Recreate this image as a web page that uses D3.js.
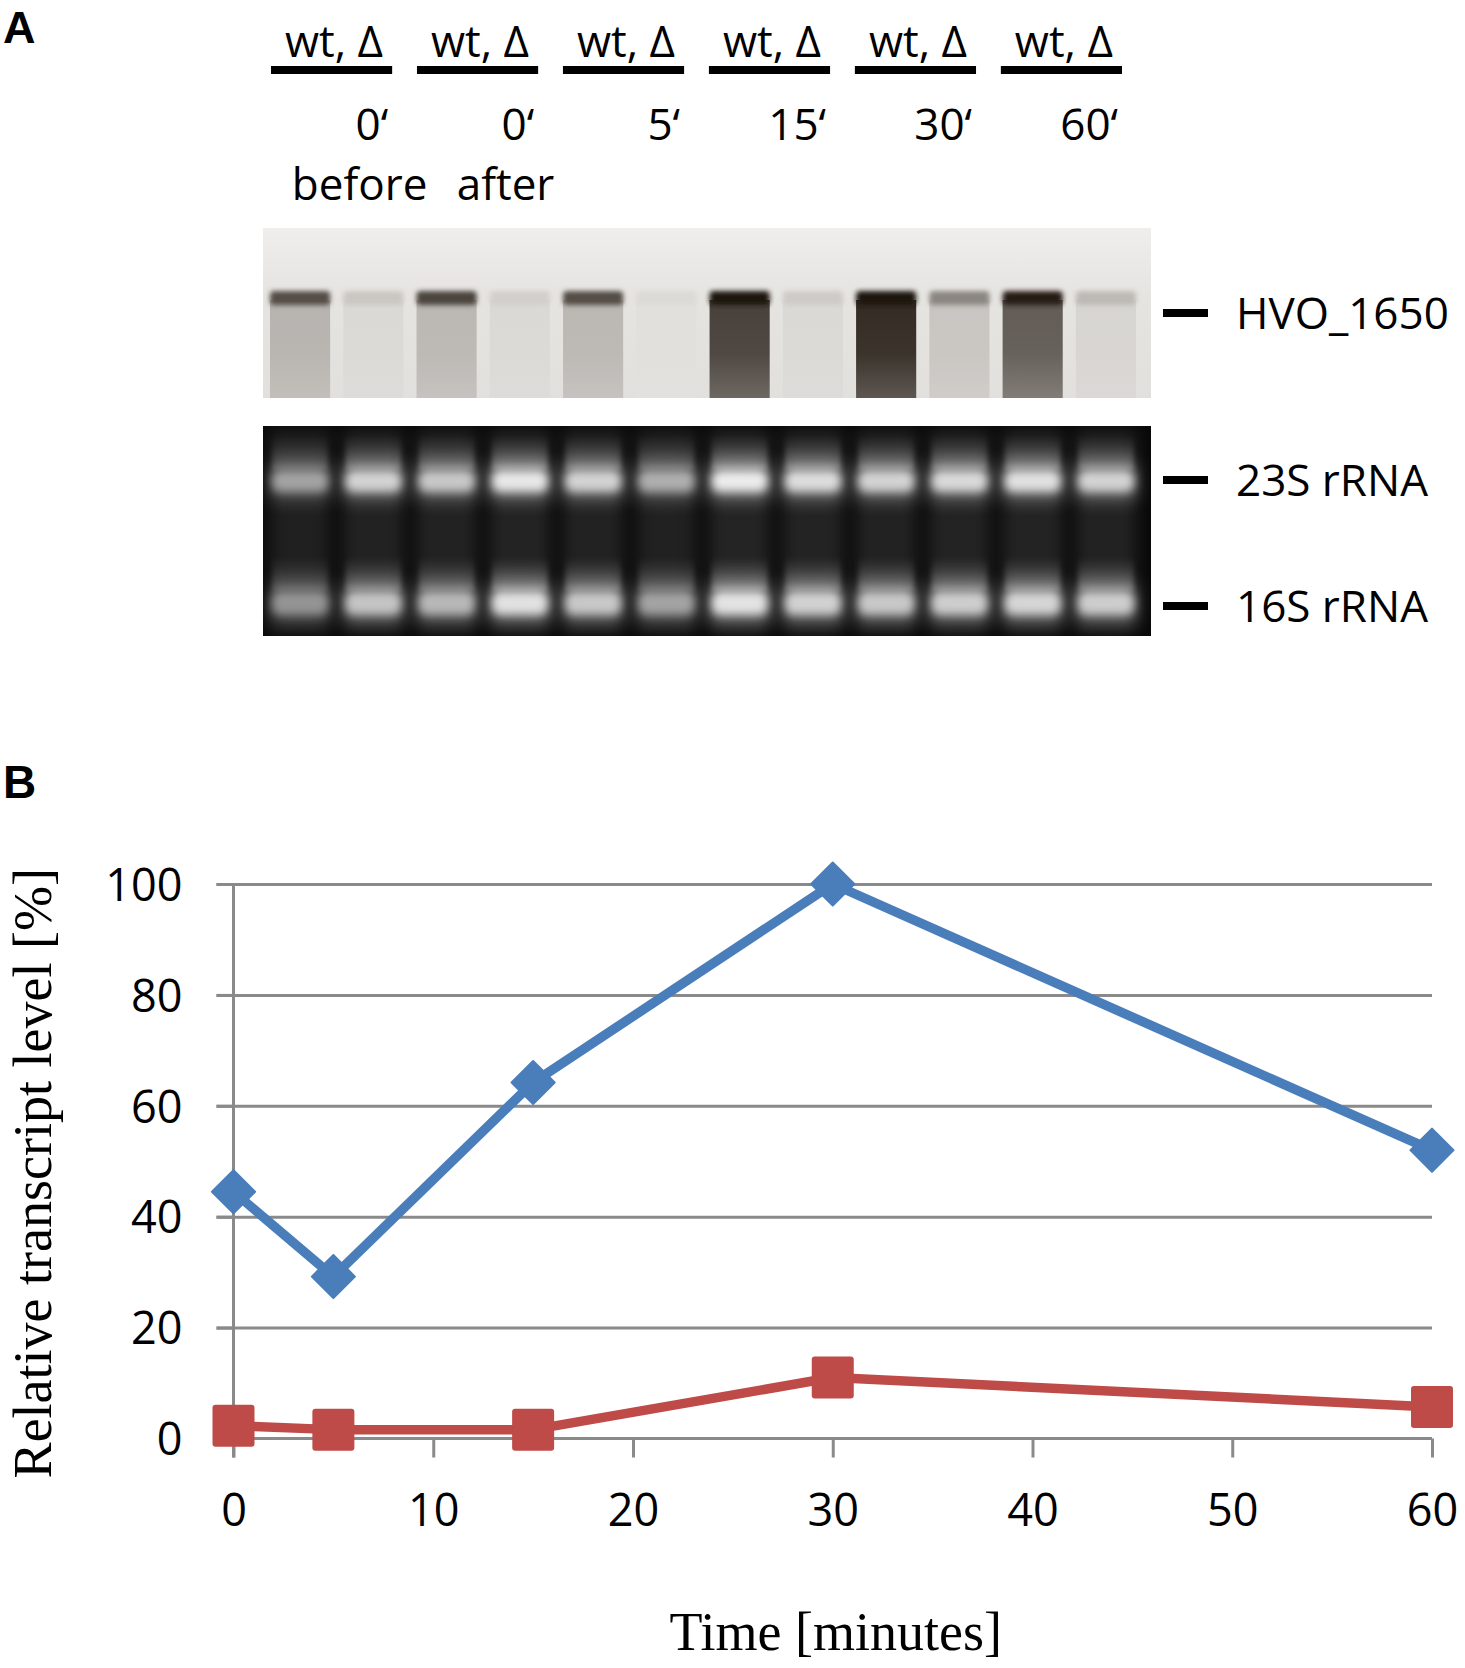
<!DOCTYPE html>
<html>
<head>
<meta charset="utf-8">
<script src="https://cdn.jsdelivr.net/npm/d3@7"></script>
<style>
  body { margin: 0; background: #fff; }
  svg { display: block; }
</style>
</head>
<body>
<div id="chart"></div>
<script>
// ---- panel A data ----
var groupLabels = ["wt, \u0394", "wt, \u0394", "wt, \u0394", "wt, \u0394", "wt, \u0394", "wt, \u0394"];
var timeLabels = ["0\u2018", "0\u2018", "5\u2018", "15\u2018", "30\u2018", "60\u2018"];
var subLabels = ["before", "after", "", "", "", ""];
var lanes = ["wt0b", "d0b", "wt0a", "d0a", "wt5", "d5", "wt15", "d15", "wt30", "d30", "wt60", "d60"];
// northern blot darkness (0 = background, 1 = black)
var hvoBand = [0.72, 0.14, 0.76, 0.1, 0.72, 0.05, 1.0, 0.12, 1.0, 0.45, 0.95, 0.2];
var hvoSmear = [0.22, 0.05, 0.2, 0.05, 0.2, 0.02, 0.74, 0.05, 0.84, 0.14, 0.62, 0.07];
// ethidium bromide brightness
var rRNA23S = [0.62, 0.85, 0.8, 0.95, 0.85, 0.68, 0.97, 0.9, 0.85, 0.88, 0.92, 0.85];
var rRNA16S = [0.55, 0.78, 0.72, 0.92, 0.8, 0.62, 0.93, 0.84, 0.8, 0.82, 0.86, 0.82];
var markerLabels = ["HVO_1650", "23S rRNA", "16S rRNA"];

// ---- panel B data ----
var times = [0, 5, 15, 30, 60];
var wtLevel = [44.5, 29.2, 64.2, 100, 52.0];
var deltaLevel = [2.3, 1.6, 1.6, 11.0, 5.7];
var xTicks = [0, 10, 20, 30, 40, 50, 60];
var yTicks = [0, 20, 40, 60, 80, 100];

var svgWidth = 1465, svgHeight = 1668;
var sans = "'Open Sans', 'DejaVu Sans', sans-serif";
var serif = "'Liberation Serif', 'DejaVu Serif', serif";

var svg = d3.select("#chart").append("svg")
    .attr("width", svgWidth)
    .attr("height", svgHeight);

var defs = svg.append("defs");
defs.append("filter").attr("id", "blurTop").attr("x", "-20%").attr("y", "-50%").attr("width", "140%").attr("height", "200%")
    .append("feGaussianBlur").attr("stdDeviation", 2.5);
defs.append("filter").attr("id", "blurBot").attr("x", "-30%").attr("y", "-60%").attr("width", "160%").attr("height", "220%")
    .append("feGaussianBlur").attr("stdDeviation", 5);
defs.append("filter").attr("id", "blurSoft").attr("x", "-30%").attr("y", "-30%").attr("width", "160%").attr("height", "160%")
    .append("feGaussianBlur").attr("stdDeviation", 8);

// ================= Panel A =================
svg.append("text").attr("x", 3).attr("y", 43).text("A")
    .attr("font-family", "'Liberation Sans', Arial, sans-serif").attr("font-weight", "bold").attr("font-size", "45px");

var groupScale = d3.scaleBand().domain(d3.range(groupLabels.length)).range([271, 1122]).paddingInner(0.17);
var laneScale = d3.scaleBand().domain(lanes).range([266, 1140]).paddingInner(0.07);

var groups = svg.append("g").attr("font-family", sans).attr("font-size", "44px").attr("fill", "#000");
groupLabels.forEach(function(lab, i) {
    var x0 = groupScale(i), bw = groupScale.bandwidth();
    groups.append("rect").attr("x", x0).attr("y", 66).attr("width", bw).attr("height", 8).attr("fill", "#000");
    groups.append("text").attr("x", x0 + 14).attr("y", 57).text(lab);
    groups.append("text").attr("x", x0 + bw - 4).attr("y", 140).attr("text-anchor", "end").text(timeLabels[i]);
    if (subLabels[i])
        groups.append("text").attr("x", x0 + bw / 2 + 28).attr("y", 200).attr("text-anchor", "middle").text(subLabels[i]);
});

// northern blot
var blotTop = 228, blotBottom = 398, blotLeft = 263, blotRight = 1151;
var topBg = "#e6e4e1";
var darkColor = d3.interpolateRgb(topBg, "#1b120b");

var bgGrad = defs.append("linearGradient").attr("id", "bgGrad").attr("x1", 0).attr("y1", 0).attr("x2", 0).attr("y2", 1);
bgGrad.append("stop").attr("offset", "0%").attr("stop-color", "#efeeec");
bgGrad.append("stop").attr("offset", "40%").attr("stop-color", topBg);
bgGrad.append("stop").attr("offset", "100%").attr("stop-color", "#e2e0dd");

var blot = svg.append("g");
blot.append("rect").attr("x", blotLeft).attr("y", blotTop).attr("width", blotRight - blotLeft)
    .attr("height", blotBottom - blotTop).attr("fill", "url(#bgGrad)");

lanes.forEach(function(l, i) {
    var g = defs.append("linearGradient").attr("id", "smear" + i).attr("x1", 0).attr("y1", 0).attr("x2", 0).attr("y2", 1);
    g.append("stop").attr("offset", "0%").attr("stop-color", darkColor(hvoSmear[i] * 1.05));
    g.append("stop").attr("offset", "55%").attr("stop-color", darkColor(hvoSmear[i]));
    g.append("stop").attr("offset", "100%").attr("stop-color", darkColor(hvoSmear[i] * 0.8));
});

blot.selectAll(".smear").data(lanes).enter().append("rect")
    .attr("class", "smear")
    .attr("x", function(d) { return laneScale(d) + 4; })
    .attr("y", 300)
    .attr("width", laneScale.bandwidth() - 8)
    .attr("height", blotBottom - 300)
    .attr("fill", function(d, i) { return "url(#smear" + i + ")"; });

blot.selectAll(".band").data(lanes).enter().append("rect")
    .attr("class", "band")
    .attr("x", function(d) { return laneScale(d) + 4; })
    .attr("y", 291)
    .attr("width", laneScale.bandwidth() - 8)
    .attr("height", 14)
    .attr("rx", 4)
    .attr("fill", function(d, i) { return darkColor(hvoBand[i]); })
    .attr("filter", "url(#blurTop)");

// ethidium bromide gel
var gelTop = 426, gelBottom = 636;
var gel = svg.append("g");
gel.append("rect").attr("x", blotLeft).attr("y", gelTop).attr("width", blotRight - blotLeft)
    .attr("height", gelBottom - gelTop).attr("fill", "#090909");

var tailGrad = defs.append("linearGradient").attr("id", "tail").attr("x1", 0).attr("y1", 0).attr("x2", 0).attr("y2", 1);
tailGrad.append("stop").attr("offset", "0%").attr("stop-color", "#fff").attr("stop-opacity", 0.35);
tailGrad.append("stop").attr("offset", "100%").attr("stop-color", "#fff").attr("stop-opacity", 0);

var gelInner = gel.append("g");
// faint lane smear
gelInner.selectAll(".lsmear").data(lanes).enter().append("rect")
    .attr("class", "lsmear")
    .attr("x", function(d) { return laneScale(d) + 4; })
    .attr("y", gelTop + 4)
    .attr("width", laneScale.bandwidth() - 8)
    .attr("height", gelBottom - gelTop - 8)
    .attr("fill", "#fff")
    .attr("opacity", function(d, i) { return 0.06 + 0.05 * rRNA23S[i]; })
    .attr("filter", "url(#blurSoft)");

function drawRBand(values, yc, h, cls) {
    // glow tail trailing above the band
    gelInner.selectAll("." + cls + "t").data(lanes).enter().append("rect")
        .attr("x", function(d) { return laneScale(d) + 6; })
        .attr("y", yc - h / 2 - 34)
        .attr("width", laneScale.bandwidth() - 12)
        .attr("height", 34)
        .attr("fill", "url(#tail)")
        .attr("transform", function(d) { return "rotate(180," + (laneScale(d) + laneScale.bandwidth() / 2) + "," + (yc - h / 2 - 17) + ")"; })
        .attr("opacity", function(d, i) { return values[i]; })
        .attr("filter", "url(#blurTop)");
    gelInner.selectAll("." + cls + "h").data(lanes).enter().append("rect")
        .attr("x", function(d) { return laneScale(d) + 2; })
        .attr("y", yc - h / 2 - 10)
        .attr("width", laneScale.bandwidth() - 4)
        .attr("height", h + 20)
        .attr("rx", 10)
        .attr("fill", "#fff")
        .attr("opacity", function(d, i) { return values[i] * 0.3; })
        .attr("filter", "url(#blurSoft)");
    gelInner.selectAll("." + cls).data(lanes).enter().append("rect")
        .attr("x", function(d) { return laneScale(d) + 6; })
        .attr("y", yc - h / 2)
        .attr("width", laneScale.bandwidth() - 12)
        .attr("height", h)
        .attr("rx", 8)
        .attr("fill", function(d, i) { return d3.interpolateRgb("#222", "#f2f2f2")(values[i]); })
        .attr("filter", "url(#blurBot)");
}
drawRBand(rRNA23S, 481, 22, "b23");
drawRBand(rRNA16S, 603, 24, "b16");

// marker labels
var markerY = [313, 480, 606];
var markers = svg.append("g").attr("font-family", sans).attr("font-size", "44px");
markerLabels.forEach(function(lab, i) {
    markers.append("rect").attr("x", 1163).attr("y", markerY[i] - 4).attr("width", 45).attr("height", 8).attr("fill", "#000");
    markers.append("text").attr("x", 1236).attr("y", markerY[i] + 16).text(lab);
});

// ================= Panel B =================
svg.append("text").attr("x", 3).attr("y", 798).text("B")
    .attr("font-family", "'Liberation Sans', Arial, sans-serif").attr("font-weight", "bold").attr("font-size", "46px");

var x = d3.scaleLinear().domain([0, 60]).range([233.5, 1432]);
var y = d3.scaleLinear().domain([0, 100]).range([1438.5, 884]);
var gridColor = "#8a8a8a";
var plotW = x(60) - x(0);

// horizontal gridlines
svg.append("g")
    .attr("transform", "translate(" + x(0) + ",0)")
    .call(d3.axisLeft(y).tickValues(yTicks.slice(1)).tickSize(-plotW).tickSizeOuter(0).tickFormat(""))
    .call(function(g) { g.select(".domain").remove(); })
    .call(function(g) { g.selectAll(".tick line").attr("stroke", gridColor).attr("stroke-width", 3).attr("x1", -17); });

// y axis with labels
svg.append("g")
    .attr("transform", "translate(" + x(0) + ",0)")
    .call(d3.axisLeft(y).tickValues(yTicks).tickSize(17).tickSizeOuter(0).tickPadding(34))
    .call(function(g) {
        g.select(".domain").attr("stroke", gridColor).attr("stroke-width", 3).attr("d", "M0," + y(100) + "V" + (y(0) + 19));
        g.selectAll(".tick line").attr("stroke", gridColor).attr("stroke-width", 3);
        g.selectAll(".tick text").attr("font-family", sans).attr("font-size", "45px").attr("fill", "#000").attr("dy", "0.36em");
    });

// x axis
svg.append("g")
    .attr("transform", "translate(0," + y(0) + ")")
    .call(d3.axisBottom(x).tickValues(xTicks).tickSize(19).tickSizeOuter(0))
    .call(function(g) {
        g.select(".domain").attr("stroke", gridColor).attr("stroke-width", 3).attr("d", "M" + (x(0) - 17) + ",0H" + x(60));
        g.selectAll(".tick line").attr("stroke", gridColor).attr("stroke-width", 3);
        g.selectAll(".tick text").attr("font-family", sans).attr("font-size", "45px").attr("fill", "#000")
            .attr("y", 87).attr("dy", 0);
    });

var blue = "#4A7EBB", red = "#BE4B48";
var line = d3.line().x(function(d) { return x(d[0]); }).y(function(d) { return y(d[1]); });
var wtData = d3.zip(times, wtLevel);
var deltaData = d3.zip(times, deltaLevel);

svg.append("path").datum(deltaData).attr("d", line).attr("fill", "none")
    .attr("stroke", red).attr("stroke-width", 9.5).attr("stroke-linejoin", "round");
svg.selectAll(".sq").data(deltaData).enter().append("rect")
    .attr("class", "sq")
    .attr("x", function(d) { return x(d[0]) - 21; })
    .attr("y", function(d) { return y(d[1]) - 21; })
    .attr("width", 42).attr("height", 42).attr("rx", 3)
    .attr("fill", red);

svg.append("path").datum(wtData).attr("d", line).attr("fill", "none")
    .attr("stroke", blue).attr("stroke-width", 9.5).attr("stroke-linejoin", "round");
svg.selectAll(".dia").data(wtData).enter().append("path")
    .attr("class", "dia")
    .attr("d", d3.symbol().type(d3.symbolSquare).size(930))
    .attr("stroke", blue).attr("stroke-width", 2).attr("stroke-linejoin", "round")
    .attr("transform", function(d) { return "translate(" + x(d[0]) + "," + y(d[1]) + ") rotate(45)"; })
    .attr("fill", blue);

// axis titles
svg.append("text")
    .attr("transform", "translate(51," + ((y(0) + y(100)) / 2 + 12) + ") rotate(-90)")
    .attr("text-anchor", "middle")
    .attr("font-family", serif).attr("font-size", "54px")
    .text("Relative transcript level [%]");
svg.append("text")
    .attr("x", (x(0) + x(60)) / 2 + 3).attr("y", 1650)
    .attr("text-anchor", "middle")
    .attr("font-family", serif).attr("font-size", "54px")
    .text("Time [minutes]");
</script>
</body>
</html>
